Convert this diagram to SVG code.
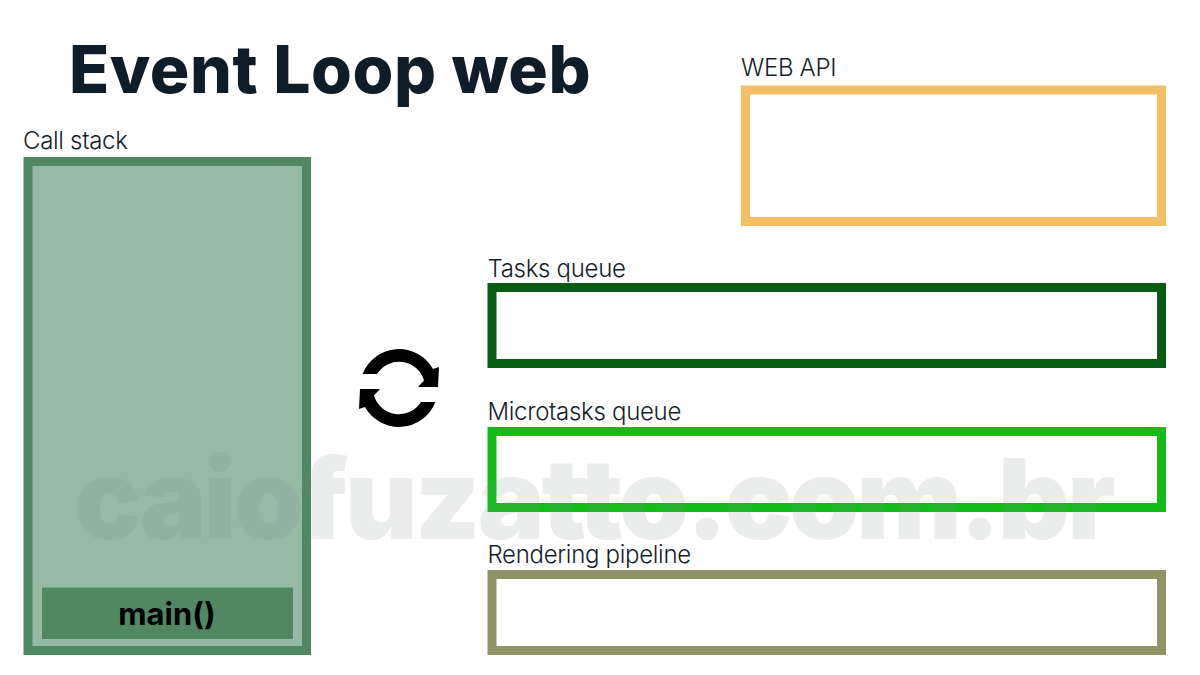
<svg xmlns="http://www.w3.org/2000/svg" width="1200" height="675" viewBox="0 0 1200 675">
<style>
text{font-family:"Inter","Noto Sans","Liberation Sans",sans-serif}
.label{font-size:24px;fill:#141e2b;letter-spacing:-.3px;font-weight:350}
.box{fill:#fff;stroke-width:9}
</style>
<defs>
<path id="arc" d="M362.6 374A39 39 0 0 1 433 369L439 367L438 387L418 387L424 380.500A26 26 0 0 0 377 374Z" fill="#000"/>
</defs>
<rect width="1200" height="675" fill="#fff"/>
<text id="title" x="69" y="93" font-size="66" font-weight="800" fill="#0f1c2a" letter-spacing=".55">Event Loop web</text>
<g id="call-stack">
<text class="label" x="23" y="149">Call stack</text>
<rect x="28" y="161.500" width="278.500" height="489" fill="#96baa5" stroke="#4f8862" stroke-width="9"/>
</g>
<g id="main">
<rect x="42" y="587.500" width="251" height="51.500" fill="#4f8862"/>
<text x="167" y="625" font-size="31" font-weight="700" fill="#000" text-anchor="middle">main()</text>
</g>
<g id="web-api">
<text class="label" x="741" y="76">WEB API</text>
<rect class="box" x="745.500" y="90" width="416" height="131.500" stroke="#f3bf66"/>
</g>
<g id="tasks-queue">
<text class="label" x="487.500" y="277">Tasks queue</text>
<rect class="box" x="492" y="287.500" width="669.500" height="76" stroke="#075b12"/>
</g>
<g id="microtasks-queue">
<text class="label" x="487.500" y="420">Microtasks queue</text>
<rect class="box" x="492" y="431.500" width="669.500" height="76" stroke="#12bd19"/>
</g>
<g id="rendering-pipeline">
<text class="label" x="487.500" y="563">Rendering pipeline</text>
<rect class="box" x="492" y="574.500" width="669.500" height="76" stroke="#8f9365"/>
</g>
<g id="connectors">
<use href="#arc"/>
<use href="#arc" transform="rotate(180 399 388)"/>
</g>
<text id="watermark" x="74" y="539" font-size="112" font-weight="900" fill="#7f8c8d" opacity=".15" letter-spacing="-3">caiofuzatto.com.br</text>
</svg>
